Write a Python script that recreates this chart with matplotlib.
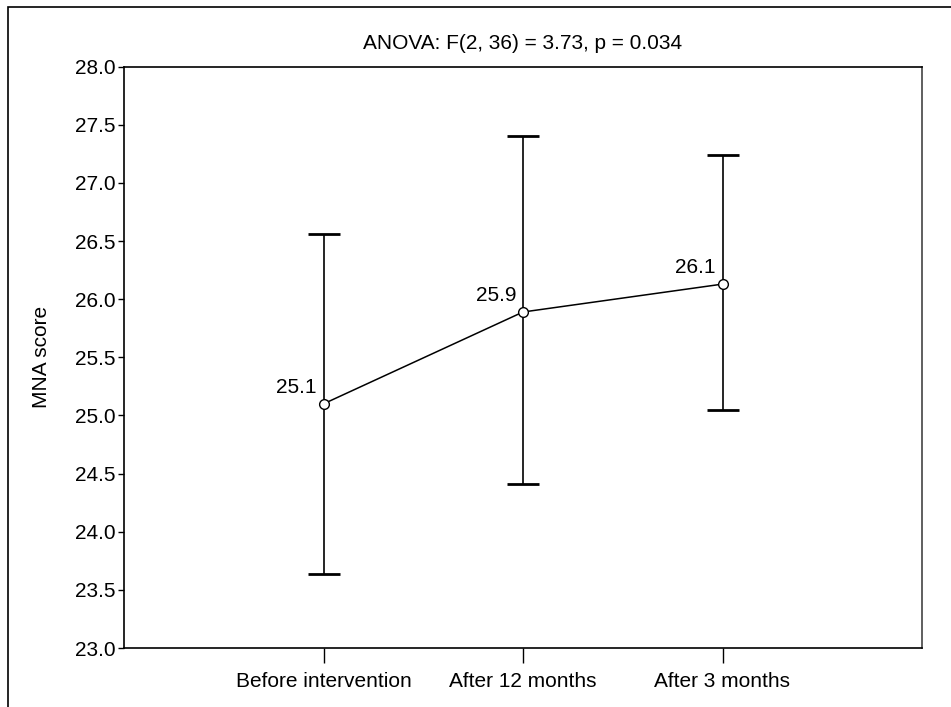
import numpy as np
import matplotlib
matplotlib.use('Agg')
import matplotlib.pyplot as plt
from matplotlib.patches import Rectangle

plt.rcParams['font.family'] = ['Liberation Sans', 'DejaVu Sans']

groups = ['Before intervention', 'After 12 months', 'After 3 months']
means = [25.10, 25.89, 26.13]
upper = [26.56, 27.40, 27.24]
lower = [23.64, 24.41, 25.05]
mean_labels = ['25.1', '25.9', '26.1']
title = 'ANOVA: F(2, 36) = 3.73, p = 0.034'

fig = plt.figure(figsize=(9.51, 7.07), dpi=100)
ax = fig.add_axes([124/951, 1-648/707, (922-124)/951, (648-66.7)/707])

# outer frame, cut off on the right and bottom like the source
fig.patches.append(Rectangle((8/951, -0.1), 1.1, 1 - 7/707 + 0.1, transform=fig.transFigure,
                             fill=False, edgecolor='black', linewidth=1.2, clip_on=False))

x = np.arange(len(groups))
m = np.array(means)
yerr = [m - np.array(lower), np.array(upper) - m]
ax.errorbar(x, m, yerr=yerr, fmt='none', ecolor='black', elinewidth=1.2,
            capsize=11.5, capthick=2)
ax.plot(x, m, color='black', linewidth=1.1, marker='o', markersize=7,
        markerfacecolor='white', markeredgecolor='black', markeredgewidth=1.0, zorder=3)

for xi, yi, lab in zip(x, m, mean_labels):
    ax.annotate(lab, (xi, yi), xytext=(-5, 5), textcoords='offset points',
                ha='right', va='bottom', fontsize=15)

ax.set_xlim(-1, 3)
ax.set_ylim(23, 28)
ax.set_yticks(np.arange(23, 28.01, 0.5))
ax.set_yticklabels(['%.1f' % v for v in np.arange(23, 28.01, 0.5)])
ax.set_xticks(x)
ax.set_xticklabels(groups)
ax.tick_params(axis='y', length=4.5, width=1, pad=1.5, labelsize=15)
ax.tick_params(axis='x', length=11, width=1, pad=6, labelsize=15)
ax.set_ylabel('MNA score', fontsize=15, labelpad=17)
ax.set_title(title, fontsize=15, pad=13)
for s in ax.spines.values():
    s.set_linewidth(1.2)
ax.spines['right'].set_color('#444444')

fig.savefig('out.png', dpi=100)
